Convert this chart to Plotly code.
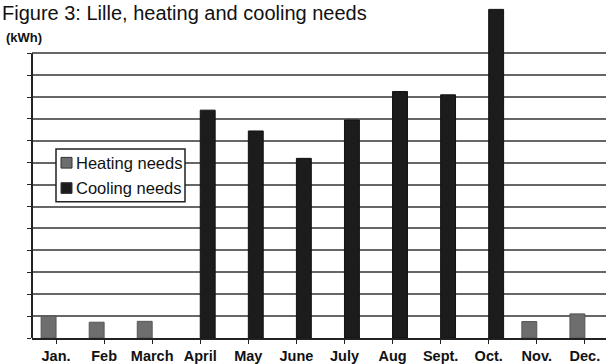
import plotly.graph_objects as go

months = ["Jan.", "Feb", "March", "April", "May", "June", "July", "Aug", "Sept.", "Oct.", "Nov.", "Dec."]
series_names = ["Heating needs", "Cooling needs"]
heating = [1.0, 0.72, 0.76, None, None, None, None, None, None, None, 0.75, 1.1]
cooling = [None, None, None, 10.4, 9.45, 8.2, 9.95, 11.25, 11.1, 15.0, None, None]
grid_vals = list(range(0, 14))

W, H = 606, 364
ml, mr, mt, mb = 32, 0, 5, 17
ph = H - mt - mb
pw = W - ml - mr
colors = ["#6e6e6e", "#1c1c1c"]

def px_x(p):
    return (p - ml) / pw

def px_y(p):
    return (H - mb - p) / ph

fig = go.Figure()
fig.add_trace(go.Bar(x=list(range(12)), y=heating, name=series_names[0],
                     marker=dict(color=colors[0], line=dict(color="#555555", width=1))))
fig.add_trace(go.Bar(x=list(range(12)), y=cooling, name=series_names[1],
                     marker=dict(color=colors[1], line=dict(color="#111111", width=1))))

fig.update_layout(
    width=W, height=H,
    margin=dict(l=ml, r=mr, t=mt, b=mb),
    paper_bgcolor="white", plot_bgcolor="white",
    barmode="group", bargap=0.38, bargroupgap=0.0,
    font=dict(family="Liberation Sans, Arial, sans-serif", color="#111111"),
    showlegend=False,
    xaxis=dict(range=[-0.5, 11.44], tickmode="array", tickvals=list(range(12)),
               ticktext=[f"<b>{m}</b>" for m in months], tickson="boundaries",
               ticks="outside", ticklen=4, tickcolor="#222222",
               showline=True, linecolor="#222222", linewidth=2,
               showgrid=False, tickfont=dict(size=14.5, color="#111111"), fixedrange=True),
    yaxis=dict(range=[0, ph / 22.5], tickmode="array", tickvals=grid_vals,
               showticklabels=False, ticks="outside", ticklen=4, tickcolor="#222222",
               showgrid=True, gridcolor="#666666", gridwidth=1.5,
               showline=False, zeroline=False, fixedrange=True),
)

# y-axis line spanning only the gridded range
fig.add_shape(type="line", xref="paper", yref="y", x0=0, x1=0, y0=0, y1=grid_vals[-1],
              line=dict(color="#222222", width=2))

# manual legend (box, swatches, labels)
fig.add_shape(type="rect", xref="paper", yref="paper",
              x0=px_x(56), x1=px_x(185), y0=px_y(207), y1=px_y(153),
              line=dict(color="#222222", width=1.5), fillcolor="white", layer="above")
for i, (name, col) in enumerate(zip(series_names, colors)):
    cy = 167 + 26 * i
    fig.add_shape(type="rect", xref="paper", yref="paper",
                  x0=px_x(61), x1=px_x(72), y0=px_y(cy + 5.5), y1=px_y(cy - 5.5),
                  line=dict(color="#333333", width=1), fillcolor=col, layer="above")
    fig.add_annotation(text=name, xref="paper", yref="paper",
                       x=px_x(74), y=px_y(cy), xanchor="left", yanchor="middle",
                       showarrow=False, font=dict(size=16.5, color="#111111"))

fig.add_annotation(text="Figure 3: Lille, heating and cooling needs", xref="paper", yref="paper",
                   x=px_x(0), y=px_y(0), xanchor="left", yanchor="top", showarrow=False,
                   font=dict(size=20, color="#111111"))
fig.add_annotation(text="<b>(kWh)</b>", xref="paper", yref="paper",
                   x=px_x(4), y=px_y(38), xanchor="left", yanchor="middle", showarrow=False,
                   font=dict(size=13, color="#111111"))

fig.write_html("out.html")
